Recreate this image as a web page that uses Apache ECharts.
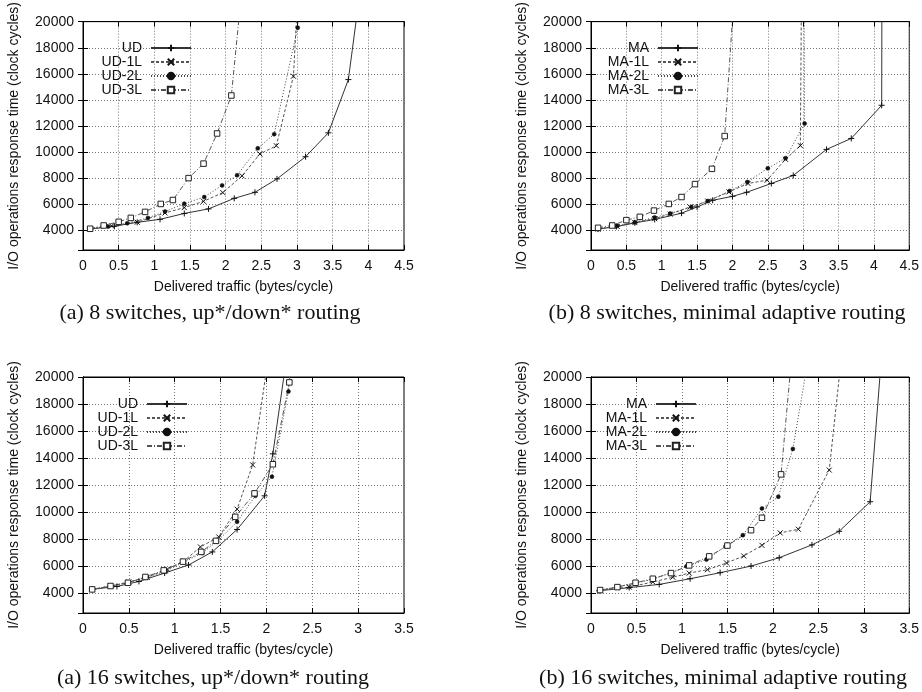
<!DOCTYPE html>
<html>
<head>
<meta charset="utf-8">
<script src="https://cdn.jsdelivr.net/npm/echarts@6/dist/echarts.min.js"></script>
<style>
html,body{margin:0;padding:0;background:#fff;}
#c{width:922px;height:692px;}
</style>
</head>
<body>
<div id="c"></div>
<script>
// ---------- Data ----------
// Panel (a) 8 switches, up*/down* routing
const p1_UD_x   = [0.1, 0.44, 0.76, 1.08, 1.42, 1.76, 2.12, 2.41, 2.72, 3.12, 3.44, 3.72, 3.9];
const p1_UD_y   = [4100, 4320, 4620, 4850, 5300, 5650, 6460, 6920, 7950, 9650, 11480, 15560, 23000];
const p1_UD1_x  = [0.1, 0.4, 0.76, 1.15, 1.42, 1.69, 1.96, 2.23, 2.48, 2.71, 2.95, 3.04];
const p1_UD1_y  = [4100, 4350, 4630, 5340, 5750, 6230, 6900, 8180, 9860, 10490, 15820, 25000];
const p1_UD2_x  = [0.1, 0.35, 0.62, 0.91, 1.15, 1.42, 1.70, 1.95, 2.16, 2.45, 2.68, 3.01, 3.05];
const p1_UD2_y  = [4150, 4300, 4550, 4960, 5450, 6050, 6560, 7450, 8230, 10290, 11380, 19540, 25000];
const p1_UD3_x  = [0.1, 0.29, 0.5, 0.67, 0.87, 1.09, 1.26, 1.48, 1.69, 1.88, 2.08, 2.2];
const p1_UD3_y  = [4130, 4380, 4660, 4960, 5420, 6030, 6330, 8010, 9120, 11430, 14340, 21000];
// Panel (b) 8 switches, minimal adaptive routing
const p2_MA_x   = [0.1, 0.36, 0.62, 0.9, 1.28, 1.5, 1.72, 2.0, 2.2, 2.55, 2.86, 3.33, 3.68, 4.11, 4.12];
const p2_MA_y   = [4100, 4300, 4580, 4840, 5320, 5800, 6310, 6610, 6920, 7600, 8210, 10210, 11050, 13590, 40000];
const p2_MA1_x  = [0.1, 0.37, 0.62, 0.9, 1.12, 1.4, 1.65, 1.95, 2.22, 2.49, 2.75, 2.96, 3.0];
const p2_MA1_y  = [4100, 4300, 4600, 4900, 5250, 5800, 6250, 6950, 7600, 7850, 9450, 10500, 40000];
const p2_MA2_x  = [0.1, 0.37, 0.62, 0.9, 1.12, 1.42, 1.65, 1.96, 2.21, 2.5, 2.75, 3.02, 3.0];
const p2_MA2_y  = [4100, 4350, 4620, 5000, 5300, 5800, 6250, 7020, 7710, 8760, 9540, 12190, 40000];
const p2_MA3_x  = [0.1, 0.3, 0.5, 0.69, 0.89, 1.1, 1.28, 1.47, 1.71, 1.89, 2.01];
const p2_MA3_y  = [4200, 4380, 4790, 5040, 5520, 6030, 6560, 7550, 8720, 11230, 21000];
// Panel (a) 16 switches, up*/down* routing
const p3_UD_x   = [0.1, 0.37, 0.61, 0.89, 1.15, 1.41, 1.68, 1.98, 2.07, 2.2];
const p3_UD_y   = [4250, 4470, 4840, 5460, 6060, 7030, 8690, 11190, 14300, 20500];
const p3_UD1_x  = [0.1, 0.3, 0.5, 0.7, 0.92, 1.1, 1.28, 1.48, 1.68, 1.85, 2.0];
const p3_UD1_y  = [4250, 4500, 4800, 5150, 5750, 6350, 7400, 8140, 10200, 13480, 20500];
const p3_UD2_x  = [0.1, 0.3, 0.5, 0.7, 0.9, 1.1, 1.3, 1.46, 1.68, 1.88, 2.06, 2.24, 2.3];
const p3_UD2_y  = [4250, 4480, 4780, 5150, 5600, 6280, 6950, 7800, 9260, 11190, 12610, 18930, 24000];
const p3_UD3_x  = [0.1, 0.3, 0.49, 0.68, 0.88, 1.09, 1.29, 1.45, 1.66, 1.87, 2.07, 2.25, 2.3];
const p3_UD3_y  = [4250, 4500, 4740, 5170, 5660, 6310, 7030, 7850, 9630, 11370, 13530, 19600, 24000];
// Panel (b) 16 switches, minimal adaptive routing
const p4_MA_x   = [0.09, 0.42, 0.75, 1.09, 1.42, 1.76, 2.07, 2.43, 2.73, 3.07, 3.2];
const p4_MA_y   = [4150, 4380, 4620, 5040, 5490, 5980, 6600, 7550, 8560, 10750, 22000];
const p4_MA1_x  = [0.1, 0.42, 0.68, 0.9, 1.08, 1.28, 1.49, 1.68, 1.88, 2.08, 2.28, 2.62, 2.75];
const p4_MA1_y  = [4200, 4420, 4800, 5150, 5460, 5710, 6210, 6730, 7520, 8440, 8710, 13100, 21250];
const p4_MA2_x  = [0.1, 0.3, 0.49, 0.68, 0.88, 1.05, 1.27, 1.48, 1.67, 1.88, 2.06, 2.22, 2.38];
const p4_MA2_y  = [4200, 4450, 4720, 5000, 5500, 5960, 6460, 7450, 8270, 10250, 11120, 14670, 21000];
const p4_MA3_x  = [0.1, 0.29, 0.49, 0.68, 0.88, 1.08, 1.3, 1.5, 1.76, 1.88, 2.09, 2.2];
const p4_MA3_y  = [4200, 4420, 4740, 5040, 5460, 6030, 6700, 7500, 8640, 9560, 12780, 21000];

const udNames = ['UD', 'UD-1L', 'UD-2L', 'UD-3L'];
const maNames = ['MA', 'MA-1L', 'MA-2L', 'MA-3L'];
const xMaxTop = 4.5, xMaxBottom = 3.5, xStep = 0.5;
const yMin = 2500, yMax = 20000;
const captions = ['(a) 8 switches, up*/down* routing', '(b) 8 switches, minimal adaptive routing',
                  '(a) 16 switches, up*/down* routing', '(b) 16 switches, minimal adaptive routing'];
const xTitle = 'Delivered traffic (bytes/cycle)';
const yTitle = 'I/O operations response time (clock cycles)';

// ---------- Styles ----------
const SANS = 'Liberation Sans';
const SERIF = 'Liberation Serif';
const styles = [
  {line: {color: '#333', width: 1, type: 'solid'}, symbol: 'path://M0,5H10M5,0V10', size: 6,
   item: {color: '#111', borderColor: '#111', borderWidth: 1}},
  {line: {color: '#555', width: 1, type: [3, 2]}, symbol: 'path://M0,0L10,10M10,0L0,10', size: 5,
   item: {color: '#111', borderColor: '#111', borderWidth: 1}},
  {line: {color: '#444', width: 1, type: [1, 2]}, symbol: 'circle', size: 4,
   item: {color: '#111', borderColor: '#111', borderWidth: 0.5}},
  {line: {color: '#555', width: 1, type: [5, 2, 1, 2]}, symbol: 'rect', size: 5.5,
   item: {color: '#fff', borderColor: '#222', borderWidth: 1}}
];

const grids = [
  {left: 83, top: 21, width: 321, height: 229},
  {left: 591, top: 21, width: 321, height: 229},
  {left: 83, top: 377, width: 321, height: 236},
  {left: 591, top: 377, width: 321, height: 236}
];
const xMaxes = [xMaxTop, xMaxTop, xMaxBottom, xMaxBottom];

function zip(xs, ys) { return xs.map((x, i) => [x, ys[i]]); }

const panels = [
  {names: udNames, data: [zip(p1_UD_x, p1_UD_y), zip(p1_UD1_x, p1_UD1_y), zip(p1_UD2_x, p1_UD2_y), zip(p1_UD3_x, p1_UD3_y)]},
  {names: maNames, data: [zip(p2_MA_x, p2_MA_y), zip(p2_MA1_x, p2_MA1_y), zip(p2_MA2_x, p2_MA2_y), zip(p2_MA3_x, p2_MA3_y)]},
  {names: udNames, data: [zip(p3_UD_x, p3_UD_y), zip(p3_UD1_x, p3_UD1_y), zip(p3_UD2_x, p3_UD2_y), zip(p3_UD3_x, p3_UD3_y)]},
  {names: maNames, data: [zip(p4_MA_x, p4_MA_y), zip(p4_MA1_x, p4_MA1_y), zip(p4_MA2_x, p4_MA2_y), zip(p4_MA3_x, p4_MA3_y)]}
];

const gridLine = {show: true, lineStyle: {color: '#777', type: [1, 2], width: 1}};
const labelStyle = {color: '#111', fontFamily: SANS, fontSize: 14};
const tick = {show: true, inside: true, length: 5, lineStyle: {color: '#000'}};

const xAxes = [], yAxes = [];
grids.forEach((g, i) => {
  xAxes.push({
    type: 'value', gridIndex: i, min: 0, max: xMaxes[i], interval: xStep, position: 'bottom',
    name: xTitle, nameLocation: 'middle', nameGap: 30,
    nameTextStyle: {color: '#111', fontFamily: SANS, fontSize: 14},
    axisLine: {show: true, lineStyle: {color: '#000'}},
    axisTick: tick,
    axisLabel: Object.assign({margin: 9, formatter: v => String(v)}, labelStyle),
    splitLine: gridLine
  });
  yAxes.push({
    type: 'value', gridIndex: i, min: yMin, max: yMax, splitNumber: 9, position: 'left',
    name: yTitle, nameLocation: 'middle', nameGap: 62,
    nameTextStyle: {color: '#111', fontFamily: SANS, fontSize: 14},
    axisLine: {show: true, lineStyle: {color: '#000'}},
    axisTick: tick,
    axisLabel: Object.assign({margin: 9, formatter: v => (v % 2000 === 0 ? String(v) : '')}, labelStyle),
    splitLine: gridLine
  });
});
// mirrored tick axes (top / right), as in the original plots
grids.forEach((g, i) => {
  xAxes.push({
    type: 'value', gridIndex: i, min: 0, max: xMaxes[i], interval: xStep, position: 'top',
    axisLine: {show: true, lineStyle: {color: '#000'}}, axisTick: tick,
    axisLabel: {show: false}, splitLine: {show: false}
  });
  yAxes.push({
    type: 'value', gridIndex: i, min: yMin, max: yMax, splitNumber: 9, position: 'right',
    axisLine: {show: true, lineStyle: {color: '#000'}}, axisTick: tick,
    axisLabel: {show: false}, splitLine: {show: false}
  });
});

const option = {
  animation: false,
  backgroundColor: '#fff',
  grid: grids.map(g => Object.assign({show: true, borderColor: '#000', borderWidth: 1, backgroundColor: 'transparent'}, g)),
  xAxis: xAxes,
  yAxis: yAxes,
  legend: [
    {right: 730, top: 41},
    {right: 223, top: 41},
    {right: 734, top: 397},
    {right: 225, top: 397}
  ].map((pos, i) => Object.assign({
    orient: 'vertical', align: 'right', selectedMode: false,
    data: panels[i].names, itemWidth: 40, itemHeight: 8, itemGap: 0,
    textStyle: {color: '#111', fontFamily: SANS, fontSize: 14, lineHeight: 14, padding: [0, 4, 0, 0]},
    backgroundColor: 'transparent', padding: 0
  }, pos)),
  series: [],
  graphic: []
};

panels.forEach((p, i) => {
  p.data.forEach((d, k) => {
    const s = styles[k];
    option.series.push({
      type: 'line', name: p.names[k], xAxisIndex: i, yAxisIndex: i, data: d,
      clip: true, symbol: s.symbol, symbolSize: s.size, showSymbol: true,
      lineStyle: s.line, itemStyle: s.item, z: 3
    });
  });
});

const capPos = [[210, 313], [727, 313], [213, 678], [723, 678]];
captions.forEach((c, i) => {
  option.graphic.push({
    type: 'text', x: capPos[i][0], y: capPos[i][1],
    style: {text: c, fill: '#111', font: '22px "' + SERIF + '"', textAlign: 'center', textVerticalAlign: 'middle'}
  });
});

const chart = echarts.init(document.getElementById('c'), null, {renderer: 'canvas'});
chart.setOption(option);
</script>
</body>
</html>
